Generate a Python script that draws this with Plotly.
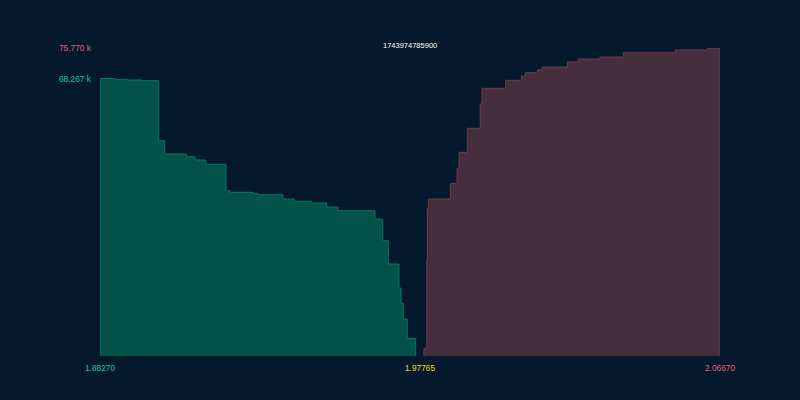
import plotly.graph_objects as go

bid_price = [1.88270, 1.88270, 1.88715, 1.89071, 1.89516, 1.90012, 1.90190, 1.90843, 1.91089, 1.91407,
             1.92009, 1.92128, 1.92811, 1.92959, 1.93701, 1.94027, 1.94553, 1.94998, 1.95333, 1.96431,
             1.96660, 1.96826, 1.97143, 1.97203, 1.97271, 1.97390, 1.97639, 1.97639]
bid_depth = [0, 68267, 68068, 67896, 67724, 52964, 49692, 49028, 48216, 47158,
             40664, 40270, 40024, 39680, 38622, 38056, 37638, 36654, 35744, 33702,
             28364, 22632, 16728, 12964, 9102, 4354, 4354, 0]
ask_price = [1.97885, 1.97885, 1.97966, 1.97983, 1.98013, 1.98666, 1.98865, 1.98924, 1.99170, 1.99556,
             1.99607, 2.00310, 2.00773, 2.00892, 2.01248, 2.01396, 2.02138, 2.02464, 2.03109, 2.03800,
             2.05355, 2.06293, 2.06670, 2.06670]
ask_depth = [0, 1894, 23444, 36334, 38622, 42484, 46174, 50110, 56014, 61992,
             65854, 67822, 68880, 69692, 70356, 71094, 72324, 73062, 73554, 74710,
             75276, 75770, 75770, 0]
title_text = "1743974785900"
max_label = "75.770 k"
bid_label = "68.267 k"
low_label = "1.88270"
mid_label = "1.97765"
high_label = "2.06670"
low_price, mid_price, high_price = 1.88270, 1.97765, 2.06670
max_depth, bid_max = 75770, 68267

BG = "#05192d"
GREEN, RED, YELLOW = "#00d09a", "#e4607a", "#ecdc30"
FONT = "Liberation Sans, Arial, sans-serif"

fig = go.Figure()
fig.add_trace(go.Scatter(x=bid_price, y=bid_depth, mode="lines", line=dict(shape="hv", color="#0a7466", width=1),
                         fill="tozeroy", fillcolor="#04534b", hoverinfo="skip"))
fig.add_trace(go.Scatter(x=ask_price, y=ask_depth, mode="lines", line=dict(shape="hv", color="#6b3a4c", width=1),
                         fill="tozeroy", fillcolor="#472e3c", hoverinfo="skip"))

def label(text, x, y, color, xanchor, size=8.3, xshift=0, yshift=0, xref="x", yref="y"):
    fig.add_annotation(text=text, x=x, y=y, xref=xref, yref=yref, showarrow=False, xanchor=xanchor, yanchor="middle",
                       xshift=xshift, yshift=yshift, font=dict(family=FONT, size=size, color=color))

label(max_label, low_price, max_depth, RED, "right", xshift=-6)
label(bid_label, low_price, bid_max, GREEN, "right", xshift=-6)
label(low_label, low_price, 0, GREEN, "center", yshift=-12)
label(mid_label, mid_price, 0, YELLOW, "center", yshift=-12)
label(high_label, high_price, 0, RED, "center", yshift=-12)
label(title_text, 0.5, max_depth, "#ffffff", "center", size=7.5, xshift=0, yshift=3, xref="paper")

fig.update_layout(
    width=800, height=400, margin=dict(l=100, r=80, t=48, b=44, pad=0, autoexpand=False),
    paper_bgcolor=BG, plot_bgcolor=BG, showlegend=False,
    xaxis=dict(range=[low_price, high_price], visible=False),
    yaxis=dict(range=[0, max_depth], visible=False),
)
fig.write_html("out.html", config=dict(displayModeBar=False),
               post_script="document.body.style.margin='0';document.body.style.overflow='hidden';")
